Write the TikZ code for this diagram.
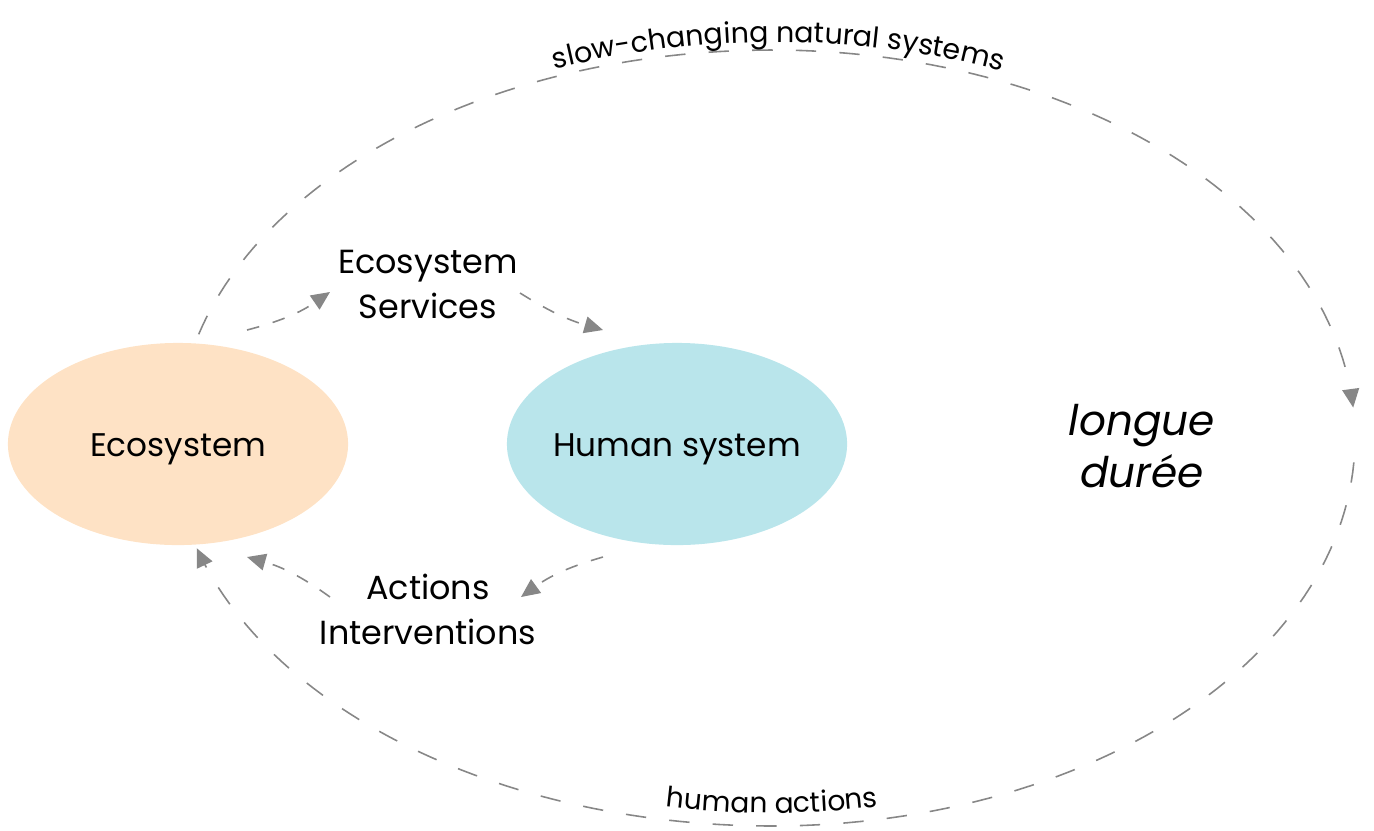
\documentclass[tikz,border=0pt]{standalone}
\usepackage{fontspec}
\setmainfont{Poppins}
\usetikzlibrary{arrows.meta,decorations.text,shapes.geometric}
\definecolor{peach}{HTML}{FEE2C5}
\definecolor{skyb}{HTML}{B9E5EB}
\definecolor{lgray}{HTML}{878787}
\begin{document}
\begin{tikzpicture}[x=0.01cm,y=-0.01cm,
  blob/.style={ellipse, minimum width=3.4cm, minimum height=2.02cm, inner sep=0pt},
  blobtext/.style={font=\fontsize{9.3}{12}\selectfont, inner sep=0pt},
  lbl/.style={align=center, font=\fontsize{9.5}{12.8}\selectfont},
  tipx/.style={-{Triangle[length=5.3pt,width=4.8pt]}},
  loopline/.style={draw=lgray, line width=0.45pt, dash pattern=on 5.8pt off 6.6pt, tipx},
  smallline/.style={draw=lgray, line width=0.45pt, dash pattern=on 3.6pt off 4pt, tipx},
]
\useasboundingbox (0,0) rectangle (1374,830);

\node[blob, fill=peach] (eco) at (178,444) {};
\node[blob, fill=skyb] (hum) at (677,444) {};
\node[blobtext] (ecot) at ([yshift=-1.4pt]eco.center) {Ecosystem};
\node[blobtext] (humt) at ([yshift=-1.4pt]hum.center) {Human system};
\node[lbl] (serv) at (428,284) {Ecosystem\\Services};
\node[lbl] (act) at (428,609) {Actions\\Interventions};
\node[align=center, font=\fontsize{12}{14.8}\selectfont\itshape] (ld) at (1142,446) {longue\\durée};

% small connectors
\coordinate (s1a) at (247,330); \coordinate (s1b) at (330,292);
\coordinate (s2a) at (520,293); \coordinate (s2b) at (603,330);
\coordinate (s3a) at (603,557); \coordinate (s3b) at (521,597);
\coordinate (s4a) at (330,597); \coordinate (s4b) at (247,557);
\draw[smallline] (s1a) to[bend right=10] (s1b);
\draw[smallline] (s2a) to[bend right=8] (s2b);
\draw[smallline] (s3a) to[bend right=10] (s3b);
\draw[smallline] (s4a) to[bend right=10] (s4b);

% big loop
\draw[loopline] plot[domain=195.5:270, samples=60] ({772+595*cos(\x)},{438+388*sin(\x)})
  -- plot[domain=270:355.5, samples=60] ({772+583*cos(\x)},{438+388*sin(\x)});
\draw[loopline] plot[domain=3.6:90, samples=60] ({772+583*cos(\x)},{438+388*sin(\x)})
  -- plot[domain=90:163.5, samples=60] ({772+600*cos(\x)},{438+388*sin(\x)});

% curved labels
\path[decorate, decoration={text along path, text align=center,
  text={|\fontsize{8.1}{9}\selectfont|slow-changing natural systems}}]
  plot[domain=200.5:340.5, samples=80] ({775+605*cos(\x)},{438+396*sin(\x)});
\path[decorate, decoration={text along path, text align=center,
  text={|\fontsize{8}{9}\selectfont|human actions}}]
  plot[domain=112:68, samples=60] ({772+575*cos(\x)},{438+375*sin(\x)});
\end{tikzpicture}
\end{document}
